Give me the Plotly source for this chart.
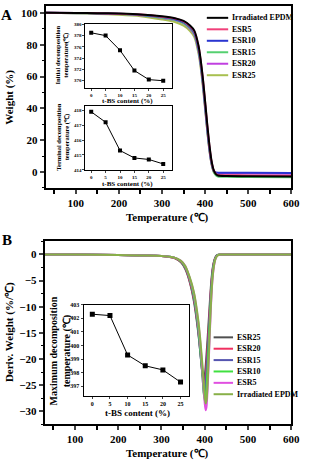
import plotly.graph_objects as go

W, H = 310, 462
FONT = "Liberation Serif"

# ---------------- data ----------------
series_names = ["Irradiated EPDM", "ESR5", "ESR10", "ESR15", "ESR20", "ESR25"]

# Panel A (TGA)
tga_temp = [30, 100, 150, 200, 250, 300, 330, 350, 365, 375, 385, 390, 395, 400, 405, 410, 415, 420, 425, 430, 450, 500, 600]
tga_epdm = [100, 99.9, 99.8, 99.5, 99.0, 97.8, 96.6, 94.9, 92.0, 88.8, 79, 70, 58.5, 44.5, 30, 17, 7, 1.2, -1.3, -2.2, -2.5, -2.6, -2.8]
tga_esr5 = [100, 99.9, 99.7, 99.4, 98.9, 97.6, 96.4, 94.6, 91.6, 88.3, 78.5, 69.5, 58, 44, 29.5, 16.5, 6.6, 1.0, -1.0, -1.8, -2.0, -2.1, -2.3]
tga_esr10 = [100, 99.9, 99.7, 99.4, 98.8, 97.3, 96.0, 94.1, 91.0, 87.4, 77, 68, 56, 42, 27.5, 15, 5.8, 0.8, -0.2, -0.4, -0.5, -0.5, -0.6]
tga_esr15 = [100, 99.8, 99.6, 99.3, 98.6, 96.9, 95.6, 93.6, 90.4, 86.7, 76, 67, 55, 41, 26.5, 14.2, 5.2, 0.2, -2.0, -2.8, -3.0, -3.1, -3.2]
tga_esr20 = [100, 99.8, 99.6, 99.2, 98.5, 96.8, 95.4, 93.3, 90.0, 86.2, 75.5, 66.5, 54.5, 40.5, 26.3, 14, 5.2, 0.6, -0.5, -0.8, -0.9, -0.9, -1.0]
tga_esr25 = [100, 99.7, 99.3, 98.8, 97.9, 95.8, 94.2, 91.9, 88.6, 84.8, 74, 65, 53, 39.5, 25.5, 13.5, 4.8, 0.0, -1.7, -2.3, -2.5, -2.6, -2.7]

# Panel B (DTG)
dtg_temp = [30, 100, 200, 250, 300, 330, 345, 355, 365, 375, 385, 390, 395, 398, 400, 402, 404, 407, 410, 414, 418, 422, 426, 430, 436, 450, 500, 600]
dtg_epdm = [0, 0, -0.1, -0.2, -0.3, -0.6, -1.2, -2.2, -4.3, -7.2, -12.5, -16.5, -21.5, -25.0, -27.2, -28.5, -28.0, -24.0, -18.0, -10.0, -4.5, -1.8, -0.6, -0.2, 0, 0, 0, 0]
dtg_esr5 = [0, 0, -0.1, -0.2, -0.3, -0.6, -1.2, -2.2, -4.4, -7.4, -13.0, -17.2, -22.5, -26.2, -28.5, -29.8, -29.2, -25.0, -18.8, -10.5, -4.7, -1.9, -0.6, -0.2, 0, 0, 0, 0]
dtg_esr10 = [0, 0, -0.1, -0.2, -0.3, -0.6, -1.3, -2.4, -4.6, -8.0, -14.0, -18.5, -23.5, -26.8, -28.0, -27.5, -25.5, -21.0, -15.5, -8.5, -3.8, -1.5, -0.5, -0.1, 0, 0, 0, 0]
dtg_esr15 = [0, 0, -0.1, -0.2, -0.3, -0.6, -1.3, -2.5, -4.8, -8.3, -14.5, -19.0, -23.5, -26.9, -26.3, -24.8, -22.5, -18.5, -13.8, -7.5, -3.3, -1.3, -0.4, -0.1, 0, 0, 0, 0]
dtg_esr20 = [0, 0, -0.1, -0.2, -0.3, -0.7, -1.4, -2.6, -5.0, -8.6, -14.5, -18.5, -22.8, -25.8, -25.2, -23.5, -21.2, -17.2, -12.8, -7.0, -3.1, -1.2, -0.4, -0.1, 0, 0, 0, 0]
dtg_esr25 = [0, 0, -0.1, -0.2, -0.3, -0.7, -1.5, -2.8, -5.2, -9.0, -15.0, -19.0, -23.0, -24.2, -23.2, -21.5, -19.2, -15.5, -11.5, -6.3, -2.8, -1.1, -0.3, -0.1, 0, 0, 0, 0]

# Insets
tbs_content = [0, 5, 10, 15, 20, 25]
initial_temp = [378.5, 378.0, 375.4, 371.8, 370.2, 370.0]
terminal_temp = [417.9, 417.2, 415.3, 414.8, 414.7, 414.4]
maximum_temp = [402.3, 402.2, 399.3, 398.5, 398.2, 397.3]

colors_a = ["#000000", "#f0407a", "#2a35d0", "#55d070", "#c040e0", "#a8c050"]
colors_b = ["#88b048", "#e050e0", "#40e040", "#5555b0", "#f03060", "#505050"]

tga_series = [tga_epdm, tga_esr5, tga_esr10, tga_esr15, tga_esr20, tga_esr25]
dtg_series = [dtg_epdm, dtg_esr5, dtg_esr10, dtg_esr15, dtg_esr20, dtg_esr25]


def px(x):
    return x / W


def py(y):
    return 1 - y / H


fig = go.Figure()

for i in reversed(range(6)):
    fig.add_trace(go.Scatter(x=tga_temp, y=tga_series[i], mode="lines", name=series_names[i],
                             line=dict(color=colors_a[i], width=2, shape="spline", smoothing=0.6),
                             xaxis="x", yaxis="y", showlegend=False))
for i in reversed(range(6)):
    fig.add_trace(go.Scatter(x=dtg_temp, y=dtg_series[i], mode="lines", name=series_names[i],
                             line=dict(color=colors_b[i], width=2, shape="spline", smoothing=0.6),
                             xaxis="x2", yaxis="y2", showlegend=False))

for vals, xa, ya, ms in [(initial_temp, "x3", "y3", 4), (terminal_temp, "x4", "y4", 4), (maximum_temp, "x5", "y5", 5)]:
    fig.add_trace(go.Scatter(x=tbs_content, y=vals, mode="lines+markers",
                             line=dict(color="black", width=1),
                             marker=dict(symbol="square", size=ms, color="black"),
                             xaxis=xa, yaxis=ya, showlegend=False))

main_tick = dict(family=FONT, size=11, color="black", weight="bold")


def main_x(dom_x, anchor):
    return dict(domain=dom_x, range=[30, 600], tick0=0, dtick=100, ticks="outside", ticklen=4,
                tickwidth=1.5, showline=True, linewidth=1.8, linecolor="black", mirror=True,
                showgrid=False, zeroline=False, tickfont=main_tick, anchor=anchor,
                minor=dict(dtick=50, ticks="outside", ticklen=4, tickwidth=1.5, tickcolor="black", showgrid=False))


def main_y(dom_y, rng, dtick, mdt, anchor):
    return dict(domain=dom_y, range=rng, dtick=dtick, ticks="outside", ticklen=4, tickwidth=1.5,
                showline=True, linewidth=1.8, linecolor="black", mirror=True, showgrid=False,
                zeroline=False, tickfont=main_tick, anchor=anchor,
                minor=dict(dtick=mdt, ticks="outside", ticklen=2, tickwidth=1.2, tickcolor="black", showgrid=False))


def inset_x(dom_x, rng, anchor, fs):
    return dict(domain=dom_x, range=rng, dtick=5, tick0=0, ticks="outside", ticklen=2, tickwidth=1,
                showline=True, linewidth=1, linecolor="black", mirror=True, showgrid=False,
                zeroline=False, tickfont=dict(family=FONT, size=fs, color="black", weight="bold"), anchor=anchor)


def inset_y(dom_y, rng, dtick, anchor, fs):
    return dict(domain=dom_y, range=rng, dtick=dtick, ticks="outside", ticklen=2, tickwidth=1,
                showline=True, linewidth=1, linecolor="black", mirror=True, showgrid=False,
                zeroline=False, tickfont=dict(family=FONT, size=fs, color="black", weight="bold"), anchor=anchor)


layout = dict(
    width=W, height=H, autosize=False, margin=dict(l=0, r=0, t=0, b=0),
    paper_bgcolor="white", plot_bgcolor="rgba(0,0,0,0)",
    font=dict(family=FONT, color="black"),
    xaxis=main_x([px(47), px(300)], "y"),
    yaxis=main_y([py(187), py(3)], [-10, 104.3], 20, 10, "x"),
    xaxis2=main_x([px(46), px(300)], "y2"),
    yaxis2=main_y([py(426), py(241)], [-32.5, 2.5], 5, 2.5, "x2"),
    xaxis3=inset_x([px(88), px(177)], [-2, 28], "y3", 5),
    yaxis3=inset_y([py(86), py(21)], [368.7, 380.1], 2, "x3", 5),
    xaxis4=inset_x([px(88), px(177)], [-2, 28], "y4", 5),
    yaxis4=inset_y([py(169), py(104)], [413.98, 418.3], 1, "x4", 5),
    xaxis5=inset_x([px(86), px(195)], [-2.5, 27.5], "y5", 6),
    yaxis5=inset_y([py(397), py(305)], [396.3, 403], 1, "x5", 6),
)
fig.update_layout(**layout)

shapes = []
ann = []


def text(x, y, s, size, angle=0, xanchor="center"):
    ann.append(dict(x=px(x), y=py(y), xref="paper", yref="paper", text=s, showarrow=False,
                    textangle=angle, xanchor=xanchor, yanchor="middle",
                    font=dict(family=FONT, size=size, color="black", weight="bold")))


text(7, 12, "A", 15)
text(7, 240, "B", 15)
text(10, 95, "Weight (%)", 11, -90)
text(173, 217, "Temperature (\u2103)", 11)
text(10, 333, "Deriv. Weight (%/\u2103)", 11, -90)
text(173, 455, "Temperature (\u2103)", 11)

text(64, 53, "Initial decomposition<br>temperature(\u2103)", 6.5, -90)
text(131, 99.5, "t-BS content (%)", 7)
text(64, 136, "Terminal decomposition<br>temperature (\u2103)", 6.5, -90)
text(131, 183, "t-BS content (%)", 7)
text(62, 352, "Maximum decomposition<br>temperature (\u2103)", 10, -90)
text(142, 414, "t-BS content (%)", 9)

for i in range(6):
    y = 15 + 11.6 * i
    shapes.append(dict(type="line", xref="paper", yref="paper", x0=px(213), x1=px(235), y0=py(y), y1=py(y),
                       line=dict(color=colors_a[i], width=2)))
    text(237, y, series_names[i], 8, xanchor="left")

legend_b_order = [5, 4, 3, 2, 1, 0]
for k, i in enumerate(legend_b_order):
    y = 338 + 11.5 * k
    shapes.append(dict(type="line", xref="paper", yref="paper", x0=px(220), x1=px(240), y0=py(y), y1=py(y),
                       line=dict(color=colors_b[i], width=2)))
    text(242, y, series_names[i], 8, xanchor="left")

fig.update_layout(shapes=shapes, annotations=ann)
fig.write_html("out.html", config={"displayModeBar": False},
               post_script="document.body.style.margin='0';document.body.style.padding='0';document.body.style.overflow='hidden';")
